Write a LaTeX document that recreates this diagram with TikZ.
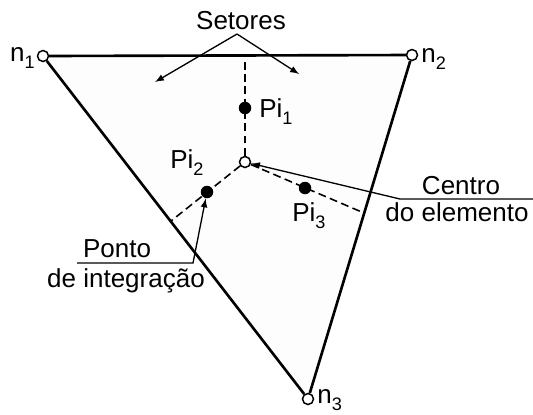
\documentclass[tikz,border=0pt]{standalone}
\usepackage{fontspec}
\setmainfont{Liberation Sans}
\usetikzlibrary{positioning}

\newcommand{\ind}[1]{\raisebox{-4pt}{\fontsize{10.3}{12}\selectfont #1}}

\tikzset{
  no/.style={circle,draw,fill=white,line width=0.85pt,inner sep=0pt,minimum size=0.22cm},
  pto/.style={circle,fill=black,inner sep=0pt,minimum size=0.25cm},
  rotulo/.style={inner sep=0pt},
  aresta/.style={line width=1.5pt},
  setor/.style={line width=0.9pt,dash pattern=on 4.5pt off 2.5pt},
  seta/.style={line width=0.75pt},
}

\begin{document}
\begin{tikzpicture}[>=latex,x=0.02cm,y=-0.02cm,font=\fontsize{14.8}{17}\selectfont]
  \useasboundingbox (0,0) rectangle (533,414);
  % Elemento triangular
  \fill[black!0.8] (43,56) -- (412,55) -- (308,399) -- cycle;
  \node[no] (n1) at (43,56) {};
  \node[no] (n2) at (412,55) {};
  \node[no] (n3) at (308,399) {};
  \draw[aresta] (n1) -- (n2) -- (n3) -- (n1);
  \node[rotulo,anchor=base east] (t1) at (35,61) {n\ind{1}};
  \node[rotulo,anchor=base west] (t2) at (421,62) {n\ind{2}};
  \node[rotulo,anchor=base west] (t3) at (317,403) {n\ind{3}};
  % Centro e setores
  \node[no] (c) at (245,162) {};
  \coordinate (a1) at (245,56);
  \coordinate (a2) at (171,221);
  \coordinate (a3) at (364,213);
  \draw[setor] (c) -- (a1);
  \draw[setor] (c) -- (a2);
  \draw[setor] (c) -- (a3);
  % Pontos de integracao
  \node[pto] (pi1) at (245,108) {};
  \node[pto] (pi2) at (207,192) {};
  \node[pto] (pi3) at (305,188) {};
  \node[rotulo,anchor=base west] (l1) at (259,117) {Pi\ind{1}};
  \node[rotulo,anchor=base west] (l2) at (170,168) {Pi\ind{2}};
  \node[rotulo,anchor=base west] (l3) at (292,221) {Pi\ind{3}};
  % Setores
  \node[rotulo,anchor=base] (setores) at (241,29) {Setores};
  \coordinate (s) at (237,34);
  \coordinate (s1) at (155,82);
  \coordinate (s2) at (299,74);
  \draw[seta,->] (s) -- (s1);
  \draw[seta,->] (s) -- (s2);
  % Centro do elemento
  \node[rotulo,anchor=base] (centro) at (461,194) {Centro};
  \node[rotulo,anchor=base] (elem) at (457,221) {do elemento};
  \coordinate (r1) at (533,199);
  \coordinate (r2) at (400,199);
  \draw[seta,->] (r1) -- (r2) -- (c);
  % Ponto de integracao
  \node[rotulo,anchor=base] (ponto) at (117,257) {Ponto};
  \node[rotulo,anchor=base] (integ) at (126,287) {de integração};
  \coordinate (q1) at (77,263);
  \coordinate (q2) at (193,263);
  \draw[seta,->] (q1) -- (q2) -- (pi2);
\end{tikzpicture}
\end{document}
